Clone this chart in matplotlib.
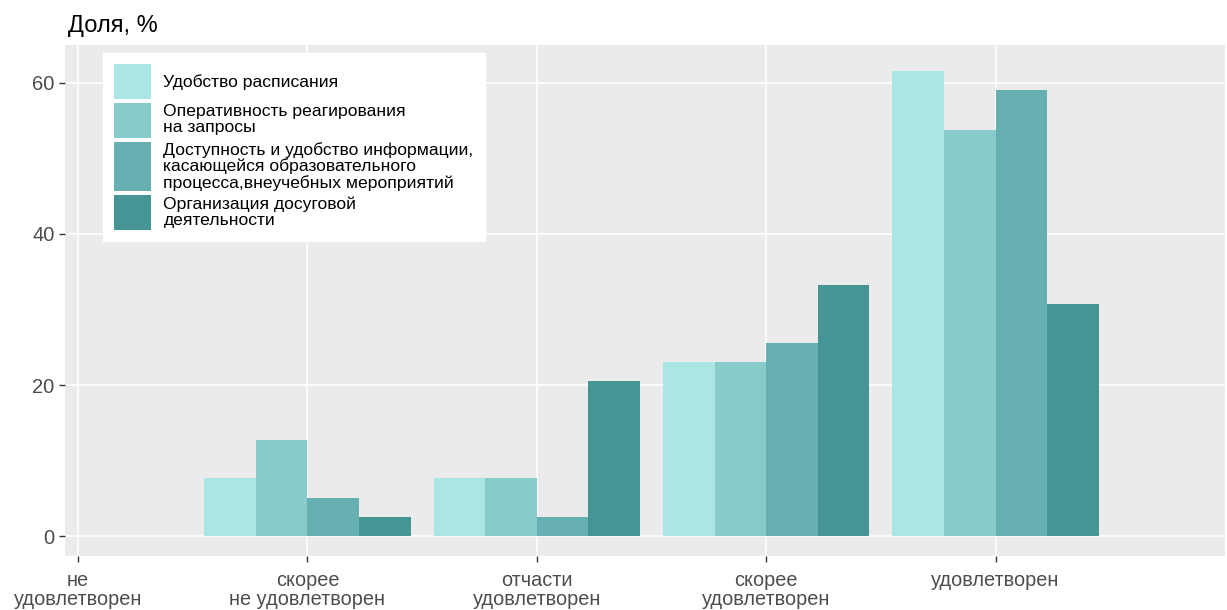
import matplotlib.pyplot as plt
import numpy as np

plt.rcParams['font.family'] = ['Liberation Sans', 'DejaVu Sans']

# categories on the x axis
categories = ["не\nудовлетворен", "скорее\nне удовлетворен", "отчасти\nудовлетворен",
              "скорее\nудовлетворен", "удовлетворен"]

# series names (legend) and shares in %
series_names = ["Удобство расписания",
                "Оперативность реагирования\nна запросы",
                "Доступность и удобство информации,\nкасающейся образовательного\nпроцесса,внеучебных мероприятий",
                "Организация досуговой\nдеятельности"]
schedule = [0, 7.7, 7.7, 23.1, 61.5]
response = [0, 12.8, 7.7, 23.1, 53.8]
information = [0, 5.1, 2.6, 25.6, 59.0]
leisure = [0, 2.6, 20.5, 33.3, 30.8]

colors = ["#AAE6E4", "#88CBCB", "#67B0B2", "#469595"]

fig = plt.figure(figsize=(12.27, 6.10), dpi=100)
ax = fig.add_axes([65 / 1227, 1 - 556 / 610, 1160 / 1227, 511 / 610])
ax.set_facecolor("#EBEBEB")

x = np.arange(len(categories))
width = 0.225
all_series = [schedule, response, information, leisure]
for i, vals in enumerate(all_series):
    ax.bar(x + (i - 1.5) * width, vals, width, color=colors[i],
           label=series_names[i], zorder=3, linewidth=0)

ax.set_xlim(-0.057, 5.0)
ax.set_ylim(-2.6, 65)
ax.set_xticks(x)
ax.set_xticklabels(categories, fontsize=14.3, color="#4D4D4D", linespacing=1.0)
ax.set_yticks([0, 20, 40, 60])
ax.set_yticklabels(["0", "20", "40", "60"], fontsize=14.5, color="#4D4D4D")
ax.tick_params(axis="both", length=4.5, width=1, color="#333333", pad=3)
ax.tick_params(axis="x", pad=6)
ax.grid(True, color="white", linewidth=1.2, zorder=0)
ax.set_axisbelow(True)
for s in ax.spines.values():
    s.set_visible(False)

fig.text(68 / 1227, 1 - 26 / 610, "Доля, %", fontsize=17, va="center", ha="left")

leg = ax.legend(loc="upper left", bbox_to_anchor=(0.033, 0.984), fontsize=12.6,
                frameon=True, fancybox=False, framealpha=1, edgecolor="white",
                handlelength=2.1, handleheight=2.7, labelspacing=0.22,
                handletextpad=0.72, borderpad=0.62, borderaxespad=0)
for t in leg.get_texts():
    t.set_linespacing(1.08)

# stretch each legend key to the height of its (multi-line) label, as ggplot does
fig.canvas.draw()
renderer = fig.canvas.get_renderer()
for patch, txt in zip(leg.get_patches(), leg.get_texts()):
    tb = txt.get_window_extent(renderer)
    pb = patch.get_window_extent(renderer)
    y0 = min(tb.y0, pb.y0)
    y1 = max(tb.y1, pb.y1)
    inv = patch.get_data_transform().inverted()
    (_, ly0), (_, ly1) = inv.transform([(pb.x0, y0), (pb.x0, y1)])
    patch.set_y(ly0)
    patch.set_height(ly1 - ly0)

fig.savefig("out.png", dpi=100)
